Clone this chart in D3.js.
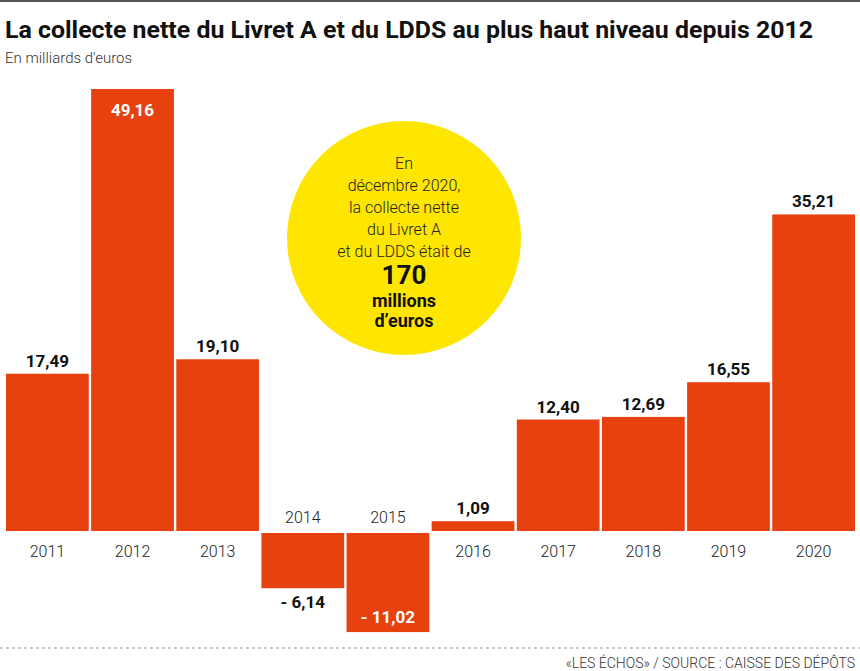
<!DOCTYPE html>
<html>
<head>
<meta charset="utf-8">
<script src="https://cdn.jsdelivr.net/npm/d3@7"></script>
<style>
  body { margin: 0; background: #fff; }
  svg { display: block; font-family: Roboto, "Noto Sans", sans-serif; }
</style>
</head>
<body>
<div id="chart"></div>
<script>
// data
var years = ["2011", "2012", "2013", "2014", "2015", "2016", "2017", "2018", "2019", "2020"];
var values = [17.49, 49.16, 19.10, -6.14, -11.02, 1.09, 12.40, 12.69, 16.55, 35.21];
var bubbleLines = ["En", "décembre 2020,", "la collecte nette", "du Livret A", "et du LDDS était de"];
var bubbleBold = ["170", "millions", "d\u2019euros"];

var width = 860, height = 671;
var barColor = "#e6410f";

var svg = d3.select("#chart").append("svg")
    .attr("width", width)
    .attr("height", height);

// top rule
svg.append("rect").attr("x", 0).attr("y", 0).attr("width", width).attr("height", 2).attr("fill", "#555");

svg.append("text")
    .attr("x", 5).attr("y", 38)
    .style("font-size", "23px").style("font-weight", "bold").attr("fill", "#111")
    .attr("textLength", 808).attr("lengthAdjust", "spacingAndGlyphs")
    .text("La collecte nette du Livret A et du LDDS au plus haut niveau depuis 2012");

svg.append("text")
    .attr("x", 5).attr("y", 63)
    .style("font-size", "15px").style("font-weight", 300).attr("fill", "#333")
    .text("En milliards d'euros");

var x = d3.scaleBand()
    .domain(years)
    .range([6, 855])
    .paddingInner(0.028);

var y = d3.scaleLinear()
    .domain([0, 49.16])
    .range([531, 89]);

var negGap = 2;

var data = years.map(function(d, i) { return {year: d, value: values[i]}; });

function fmt(v) {
    var s = d3.format(".2f")(Math.abs(v)).replace(".", ",");
    return v < 0 ? "- " + s : s;
}

svg.selectAll(".bar")
    .data(data)
    .enter().append("rect")
    .attr("class", "bar")
    .attr("x", function(d) { return x(d.year); })
    .attr("width", x.bandwidth())
    .attr("y", function(d) { return d.value >= 0 ? y(d.value) : y(0) + negGap; })
    .attr("height", function(d) { return Math.abs(y(d.value) - y(0)); })
    .attr("fill", barColor);

// year labels
svg.selectAll(".year")
    .data(data)
    .enter().append("text")
    .attr("class", "year")
    .attr("x", function(d) { return x(d.year) + x.bandwidth() / 2; })
    .attr("y", function(d) { return d.value >= 0 ? y(0) + 26 : y(0) - 8; })
    .attr("text-anchor", "middle")
    .style("font-size", "16px").style("font-weight", 300).attr("fill", "#222")
    .text(function(d) { return d.year; });

// value labels
svg.selectAll(".val")
    .data(data)
    .enter().append("text")
    .attr("class", "val")
    .attr("x", function(d) { return x(d.year) + x.bandwidth() / 2; })
    .attr("y", function(d) {
        if (d.value > 40) return y(d.value) + 27;
        if (d.value >= 0) return y(d.value) - 7;
        if (d.value < -10) return y(d.value) + negGap - 9;
        return y(d.value) + negGap + 20;
    })
    .attr("text-anchor", "middle")
    .style("font-size", "17px").style("font-weight", "bold")
    .attr("fill", function(d) { return (d.value > 40 || d.value < -10) ? "#fff" : "#111"; })
    .text(function(d) { return fmt(d.value); });

// yellow bubble
var cx = 404, cy = 238;
svg.append("circle").attr("cx", cx).attr("cy", cy).attr("r", 117).attr("fill", "#ffe600");

svg.selectAll(".bline")
    .data(bubbleLines)
    .enter().append("text")
    .attr("x", cx)
    .attr("y", function(d, i) { return 169 + i * 22; })
    .attr("text-anchor", "middle")
    .style("font-size", "16px").style("font-weight", 300).attr("fill", "#222")
    .text(function(d) { return d; });

svg.append("text").attr("x", cx).attr("y", 284)
    .attr("text-anchor", "middle")
    .style("font-size", "26px").style("font-weight", "bold").attr("fill", "#111")
    .text(bubbleBold[0]);
svg.append("text").attr("x", cx).attr("y", 307)
    .attr("text-anchor", "middle")
    .style("font-size", "18px").style("font-weight", "bold").attr("fill", "#111")
    .text(bubbleBold[1]);
svg.append("text").attr("x", cx).attr("y", 327)
    .attr("text-anchor", "middle")
    .style("font-size", "18px").style("font-weight", "bold").attr("fill", "#111")
    .text(bubbleBold[2]);

// footer
svg.append("line")
    .attr("x1", 0).attr("x2", width).attr("y1", 648).attr("y2", 648)
    .attr("stroke", "#999").attr("stroke-width", 1.2).attr("stroke-dasharray", "3,3");

svg.append("text")
    .attr("x", 855).attr("y", 668)
    .attr("text-anchor", "end")
    .style("font-size", "14px").style("font-weight", 300).attr("fill", "#333")
    .text("\u00abLES ÉCHOS\u00bb / SOURCE : CAISSE DES DÉPÔTS");
</script>
</body>
</html>
